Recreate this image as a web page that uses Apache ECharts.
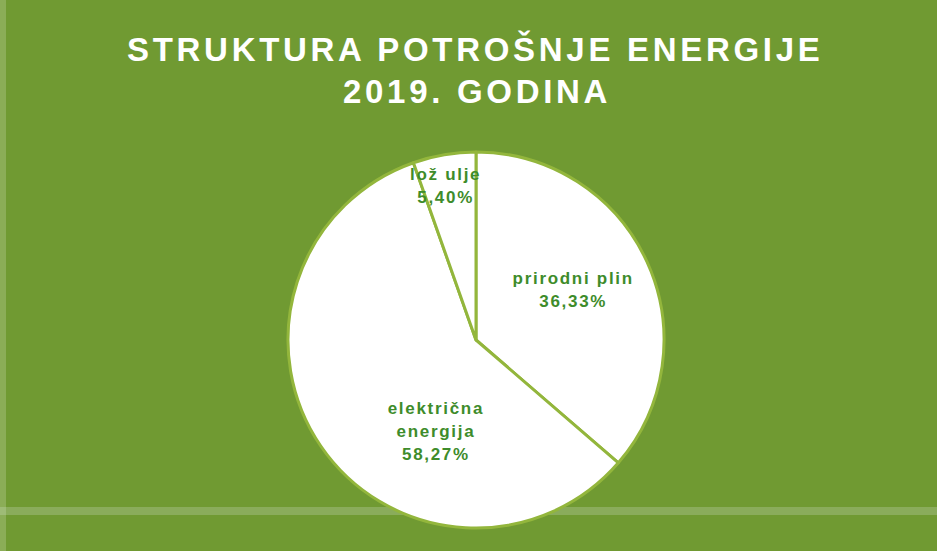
<!DOCTYPE html>
<html>
<head>
<meta charset="utf-8">
<script src="https://cdn.jsdelivr.net/npm/echarts@6/dist/echarts.min.js"></script>
<style>
  html, body { margin: 0; padding: 0; background: #709a32; }
  #chart { width: 937px; height: 551px; }
  /* the original lettering is widely tracked; svg text takes css letter-spacing */
  #chart text, #chart tspan { letter-spacing: 1.7px !important; }
  #chart text[style*="33px"], #chart text[style*="33px"] tspan,
  #chart text[font-size="33"], #chart text[font-size="33px"] { letter-spacing: 3.7px !important; }
</style>
</head>
<body>
<div id="chart"></div>
<script>
const titleLines = ['STRUKTURA POTROŠNJE ENERGIJE', '2019. GODINA']
const categories = ['prirodni plin', 'električna\nenergija', 'lož ulje']
const shares = [36.33, 58.27, 5.40]

// label nudges, px from ECharts' default inside position
const labelShift = [[9, -10], [40, 37], [-14, -58]]

const bg = '#709a32'
const edge = '#93b63c'
const ink = '#3e8c2b'
const font = '"Liberation Sans", Arial, sans-serif'

const chart = echarts.init(document.getElementById('chart'), null, { renderer: 'svg' })

const titleStyle = {
  color: '#ffffff',
  fontFamily: font,
  fontWeight: 'bold',
  fontSize: 33,
  lineHeight: 42,
}

chart.setOption({
  animation: false,
  backgroundColor: bg,
  // one title per line: the tracked lettering is wider than echarts measures,
  // so each line is placed from its left edge
  title: [
    { text: titleLines[0], left: 122, top: 23, textStyle: titleStyle },
    { text: titleLines[1], left: 338, top: 65, textStyle: titleStyle },
  ],
  graphic: [
    { type: 'rect', z: 0, shape: { x: 0, y: 507, width: 937, height: 8 }, style: { fill: 'rgba(200,215,190,0.3)' } },
    { type: 'rect', z: 0, shape: { x: 0, y: 0, width: 6, height: 551 }, style: { fill: 'rgba(220,230,200,0.25)' } },
  ],
  series: [
    {
      type: 'pie',
      zlevel: 1,
      center: [476, 340],
      radius: 188,
      startAngle: 90,
      clockwise: true,
      silent: true,
      data: categories.map((name, i) => ({ name, value: shares[i] })),
      itemStyle: { color: '#ffffff', borderColor: edge, borderWidth: 3 },
      label: {
        show: true,
        position: 'inside',
        color: ink,
        fontFamily: font,
        fontWeight: 'bold',
        fontSize: 17,
        lineHeight: 23,
        formatter: (p) => p.name + '\n' + p.value.toFixed(2).replace('.', ',') + '%',
      },
      labelLayout: (p) => ({ dx: labelShift[p.dataIndex][0], dy: labelShift[p.dataIndex][1] }),
      labelLine: { show: false },
    },
  ],
})
</script>
</body>
</html>
